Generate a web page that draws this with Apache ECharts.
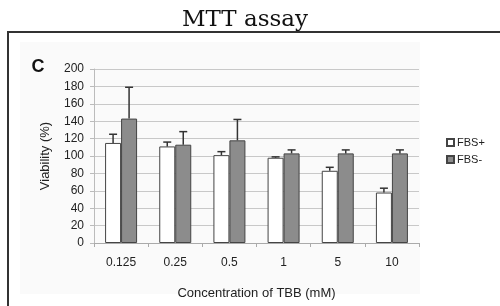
<!DOCTYPE html>
<html>
<head>
    <meta charset="utf-8"/>
    <title>MTT assay</title>
    <script src="https://cdn.jsdelivr.net/npm/echarts@6/dist/echarts.min.js"></script>
    <style>
        html, body { margin: 0; padding: 0; background: #fff; }
        #chart { width: 500px; height: 306px; }
    </style>
</head>
<body>
<div id="chart"></div>
<script>
    // 数据
    var categories = ['0.125', '0.25', '0.5', '1', '5', '10'];
    var fbsPlus = [115, 111, 101, 98, 83, 58];
    var fbsPlusErr = [10, 5, 4, 1, 4, 5];
    var fbsMinus = [143, 113, 118, 103, 103, 103];
    var fbsMinusErr = [36, 15, 24, 4, 4, 4];
    var yTicks = [0, 20, 40, 60, 80, 100, 120, 140, 160, 180, 200];

    var barW = 16;
    var chart = echarts.init(document.getElementById('chart'));

    // 误差线 (只画上半部分)
    var errorSeries = function (name, values, errs, offset) {
        return {
            name: name + ' err',
            type: 'custom',
            z: 5,
            data: values.map(function (v, i) { return [i, v, v + errs[i]]; }),
            renderItem: function (params, api) {
                var base = api.coord([api.value(0), api.value(1)]);
                var top = api.coord([api.value(0), api.value(2)]);
                var x = base[0] + offset;
                return {
                    type: 'group',
                    children: [
                        {type: 'line', shape: {x1: x, y1: base[1], x2: x, y2: top[1]},
                            style: {stroke: '#333', lineWidth: 1.5}},
                        {type: 'line', shape: {x1: x - 4, y1: top[1], x2: x + 4, y2: top[1]},
                            style: {stroke: '#333', lineWidth: 1.5}}
                    ]
                };
            }
        };
    };

    var option = {
        animation: false,
        textStyle: {fontFamily: 'Liberation Sans, Arial, sans-serif'},
        graphic: [
            {type: 'rect', shape: {x: 20, y: 42, width: 400, height: 252}, style: {fill: '#fafafa'}, z: -10},
            {type: 'rect', shape: {x: 8, y: 32, width: 510, height: 290}, style: {fill: null, stroke: '#333', lineWidth: 2}},
            {type: 'text', x: 245, y: 20, style: {text: 'MTT assay', font: '23px "DejaVu Serif", serif',
                    fill: '#111', align: 'center', verticalAlign: 'middle'}},
            {type: 'text', x: 38, y: 67, style: {text: 'C', font: 'bold 18px "Liberation Sans", Arial, sans-serif',
                    fill: '#111', align: 'center', verticalAlign: 'middle'}}
        ],
        grid: {left: 94, right: 81, top: 69, bottom: 63},
        legend: {
            data: ['FBS+', 'FBS-'],
            orient: 'vertical',
            left: 441,
            top: 132,
            itemWidth: 7,
            itemHeight: 7,
            itemGap: 6,
            icon: 'rect',
            textStyle: {fontSize: 11, color: '#222', padding: [0, 0, 0, -2]}
        },
        xAxis: {
            type: 'category',
            data: categories,
            name: 'Concentration of TBB (mM)',
            nameLocation: 'middle',
            nameGap: 44,
            nameTextStyle: {fontSize: 13, color: '#222'},
            axisLine: {lineStyle: {color: '#aaa'}},
            axisTick: {show: true, length: 4, lineStyle: {color: '#aaa'}},
            axisLabel: {fontSize: 12, color: '#222', margin: 14}
        },
        yAxis: {
            type: 'value',
            min: yTicks[0],
            max: yTicks[yTicks.length - 1],
            interval: 20,
            name: 'Viability (%)',
            nameLocation: 'middle',
            nameGap: 42,
            nameTextStyle: {fontSize: 13, color: '#222'},
            axisLine: {show: true, lineStyle: {color: '#bbb'}},
            axisTick: {show: true, length: 4, lineStyle: {color: '#bbb'}},
            axisLabel: {fontSize: 12, color: '#222', margin: 10},
            splitLine: {lineStyle: {color: '#c8c8c8'}}
        },
        series: [
            {
                name: 'FBS+',
                type: 'bar',
                data: fbsPlus,
                barWidth: barW,
                barGap: '0%',
                itemStyle: {color: '#ffffff', borderColor: '#444', borderWidth: 1}
            },
            {
                name: 'FBS-',
                type: 'bar',
                data: fbsMinus,
                barWidth: barW,
                barGap: '0%',
                itemStyle: {color: '#8c8c8c', borderColor: '#444', borderWidth: 1}
            },
            errorSeries('FBS+', fbsPlus, fbsPlusErr, -barW / 2),
            errorSeries('FBS-', fbsMinus, fbsMinusErr, barW / 2)
        ]
    };
    chart.setOption(option);
</script>
</body>
</html>
